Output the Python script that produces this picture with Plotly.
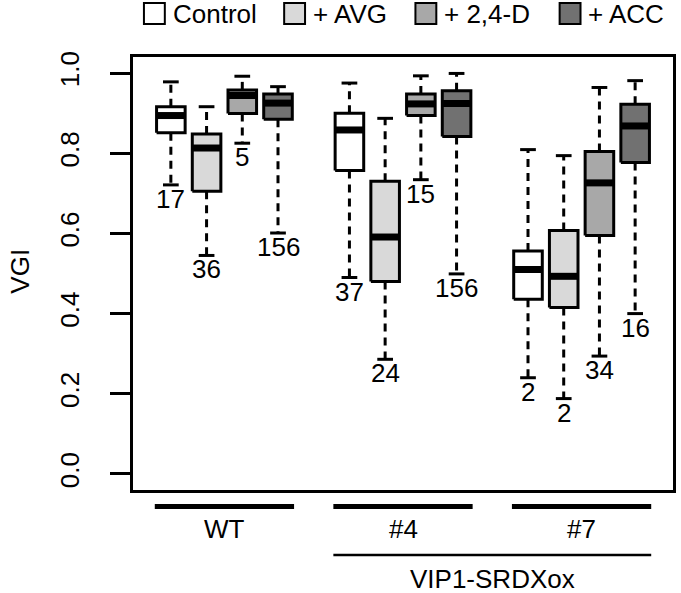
import plotly.graph_objects as go

# ---------------- data ----------------
groups = ["WT", "#4", "#7"]
group_super_label = "VIP1-SRDXox"
treatments = ["Control", "+ AVG", "+ 2,4-D", "+ ACC"]
colors = ["#ffffff", "#d9d9d9", "#a8a8a8", "#717171"]

upper = [[0.978, 0.916, 0.992, 0.966],
         [0.975, 0.887, 0.993, 0.999],
         [0.809, 0.794, 0.964, 0.981]]
q3 = [[0.916, 0.848, 0.958, 0.948],
      [0.900, 0.730, 0.948, 0.956],
      [0.556, 0.607, 0.804, 0.922]]
median = [[0.894, 0.813, 0.944, 0.925],
          [0.858, 0.591, 0.923, 0.924],
          [0.510, 0.493, 0.726, 0.868]]
q1 = [[0.851, 0.705, 0.899, 0.885],
      [0.757, 0.480, 0.894, 0.842],
      [0.436, 0.415, 0.595, 0.777]]
lower = [[0.721, 0.545, 0.825, 0.601],
         [0.490, 0.286, 0.734, 0.499],
         [0.240, 0.188, 0.294, 0.400]]
n_labels = [["17", "36", "5", "156"],
            ["37", "24", "15", "156"],
            ["2", "2", "34", "16"]]

y_ticks = [0.0, 0.2, 0.4, 0.6, 0.8, 1.0]

# ---------------- layout constants ----------------
W, H = 681, 593
ML, MR, MT, MB = 133, 5, 57, 103
PW, PH = W - ML - MR, H - MT - MB
FONT = "Liberation Sans, Arial, Helvetica, sans-serif"
FS = 26
BOXW = 0.4      # half box width (data units)
CAPW = 0.22     # half cap width


def px2paper_x(px):
    return (px - ML) / PW


def px2paper_y(py):
    return (H - MB - py) / PH


def pos(g, t):
    return 1 + 5 * g + t


fig = go.Figure()

# whiskers (dashed) and caps
wx, wy = [], []
cx, cy = [], []
for g in range(len(groups)):
    for t in range(len(treatments)):
        x = pos(g, t)
        wx += [x, x, None, x, x, None]
        wy += [q3[g][t], upper[g][t], None, q1[g][t], lower[g][t], None]
        cx += [x - CAPW, x + CAPW, None, x - CAPW, x + CAPW, None]
        cy += [upper[g][t], upper[g][t], None, lower[g][t], lower[g][t], None]
fig.add_trace(go.Scatter(x=wx, y=wy, mode="lines", showlegend=False, hoverinfo="skip",
                         line=dict(color="black", width=3, dash="8px,6px")))
fig.add_trace(go.Scatter(x=cx, y=cy, mode="lines", showlegend=False, hoverinfo="skip",
                         line=dict(color="black", width=3)))

# boxes
for t in range(len(treatments)):
    bx, by = [], []
    for g in range(len(groups)):
        x = pos(g, t)
        bx += [x - BOXW, x + BOXW, x + BOXW, x - BOXW, x - BOXW, None]
        by += [q1[g][t], q1[g][t], q3[g][t], q3[g][t], q1[g][t], None]
    fig.add_trace(go.Scatter(x=bx, y=by, mode="lines", fill="toself", fillcolor=colors[t],
                             showlegend=False, hoverinfo="skip",
                             line=dict(color="black", width=3)))

# medians
mx, my = [], []
for g in range(len(groups)):
    for t in range(len(treatments)):
        x = pos(g, t)
        mx += [x - BOXW, x + BOXW, None]
        my += [median[g][t], median[g][t], None]
fig.add_trace(go.Scatter(x=mx, y=my, mode="lines", showlegend=False, hoverinfo="skip",
                         line=dict(color="black", width=7)))

annotations = []
shapes = []

# n labels under lower whiskers
for g in range(len(groups)):
    for t in range(len(treatments)):
        annotations.append(dict(x=pos(g, t), y=lower[g][t], xref="x", yref="y",
                                text=n_labels[g][t], showarrow=False,
                                yanchor="middle", xanchor="center", yshift=-14,
                                font=dict(family=FONT, size=FS, color="black")))

# group lines and labels
for g, name in enumerate(groups):
    c = pos(g, 1.5)
    shapes.append(dict(type="line", xref="x", yref="paper",
                       x0=c - 1.95, x1=c + 1.95,
                       y0=px2paper_y(506.5), y1=px2paper_y(506.5),
                       line=dict(color="black", width=5)))
    annotations.append(dict(x=c, y=px2paper_y(529), xref="x", yref="paper",
                            text=name, showarrow=False, yanchor="middle",
                            font=dict(family=FONT, size=FS, color="black")))
c0, c1 = pos(1, 1.5), pos(2, 1.5)
shapes.append(dict(type="line", xref="x", yref="paper",
                   x0=c0 - 1.95, x1=c1 + 1.95,
                   y0=px2paper_y(555), y1=px2paper_y(555),
                   line=dict(color="black", width=2.5)))
annotations.append(dict(x=(c0 + c1) / 2, y=px2paper_y(579), xref="x", yref="paper",
                        text=group_super_label, showarrow=False, yanchor="middle",
                        font=dict(family=FONT, size=FS, color="black")))

# y axis title
annotations.append(dict(x=px2paper_x(19), y=px2paper_y(271), xref="paper", yref="paper",
                        text="VGI", showarrow=False, textangle=-90,
                        xanchor="center", yanchor="middle",
                        font=dict(family=FONT, size=FS, color="black")))

# legend (drawn manually)
leg_sq_left = [144, 285, 417, 562]
for t, name in enumerate(treatments):
    x0 = leg_sq_left[t]
    shapes.append(dict(type="rect", xref="paper", yref="paper",
                       x0=px2paper_x(x0), x1=px2paper_x(x0 + 21),
                       y0=px2paper_y(24), y1=px2paper_y(3),
                       fillcolor=colors[t], line=dict(color="black", width=2)))
    annotations.append(dict(x=px2paper_x(x0 + 27), y=px2paper_y(14), xref="paper", yref="paper",
                            text=name, showarrow=False, xanchor="left", yanchor="middle",
                            font=dict(family=FONT, size=FS, color="black")))

fig.update_layout(
    width=W, height=H,
    margin=dict(l=ML, r=MR, t=MT, b=MB, pad=0),
    plot_bgcolor="white", paper_bgcolor="white",
    showlegend=False,
    xaxis=dict(range=[-0.06, 15.06], showgrid=False, zeroline=False,
               showticklabels=False, ticks="", showline=True, mirror=True,
               linecolor="black", linewidth=3, fixedrange=True),
    yaxis=dict(range=[-0.04, 1.04], showgrid=False, zeroline=False,
               tickvals=y_ticks, ticktext=[f"{v:.1f}" for v in y_ticks],
               ticks="outside", ticklen=20, tickwidth=3, tickcolor="black",
               tickangle=-90, tickfont=dict(family=FONT, size=FS, color="black"),
               ticklabelstandoff=21,
               showline=True, mirror=True, linecolor="black", linewidth=3,
               fixedrange=True),
    annotations=annotations,
    shapes=shapes,
)

fig.write_html("out.html",
               config={"displayModeBar": False},
               post_script="document.body.style.margin='0';document.body.style.overflow='hidden';")
